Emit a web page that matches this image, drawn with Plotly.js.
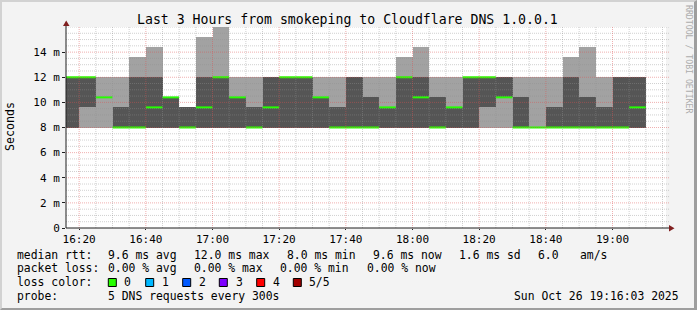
<!DOCTYPE html>
<html><head><meta charset="utf-8">
<script src="https://cdn.plot.ly/plotly-3.0.1.min.js"></script>
<style>
html,body{margin:0;padding:0;background:#f3f3f3;}
#wrap{position:relative;width:697px;height:310px;overflow:hidden;}
#chart{width:697px;height:310px;}
#frame{position:absolute;left:0;top:0;width:697px;height:310px;box-sizing:border-box;
 border-top:2px solid #d2d2d2;border-left:2px solid #d2d2d2;border-right:3px solid #9e9e9e;border-bottom:2px solid #9e9e9e;pointer-events:none;}
</style></head>
<body><div id="wrap"><div id="chart"></div><div id="frame"></div></div>
<script>
// ---- data (milliseconds) ----
const day = '2025-10-26';
const slotTimes = ['16:15','16:20','16:25','16:30','16:35','16:40','16:45','16:50','16:55',
  '17:00','17:05','17:10','17:15','17:20','17:25','17:30','17:35','17:40','17:45','17:50','17:55',
  '18:00','18:05','18:10','18:15','18:20','18:25','18:30','18:35','18:40','18:45','18:50','18:55',
  '19:00','19:05'];
const pingMin    = [8,8,8,8,8,8,8,8,8, 8,8,8,8,8,8,8,8,8,8,8,8, 8,8,8,8,8,8,8,8,8,8,8,8, 8,8];
const pingLow    = [8,9.6,10.4,8,8,8,8,8,8, 8,8,8,8,8,8,8,8,8,8,8,8, 8,8,8,8,9.6,10.4,8,8,8,8,8,8, 8,8];
const pingMedian = [12,12,10.4,8,8,9.6,10.4,8,9.6, 12,10.4,8,9.6,12,12,10.4,8,8,8,9.6,12,
  10.4,8,9.6,12,12,10.4,8,8,8,8,8,8, 8,9.6];
const pingHigh   = [12,12,10.4,9.6,12,12,10.4,9.6,12, 12,10.4,9.6,12,12,12,10.4,9.6,12,10.4,9.6,12,
  12,10.4,9.6,12,12,12,10.4,8,9.6,12,10.4,9.6, 12,12];
const pingMax    = [12,12,12,12,13.6,14.4,10.4,9.6,15.2, 16,12,12,12,12,12,12,12,12,12,12,13.6,
  14.4,12,12,12,12,12,12,12,12,13.6,14.4,12, 12,12];
const yTickVals = [0,2,4,6,8,10,12,14];
const yTickText = ['0','2 m','4 m','6 m','8 m','10 m','12 m','14 m'];
const xTickText = ['16:20','16:40','17:00','17:20','17:40','18:00','18:20','18:40','19:00'];
const lossLabels = ['0','1','2','3','4','5/5'];
const lossColors = ['#26ff00','#00b8ff','#0059ff','#7e00ff','#ff0000','#a10000'];

// ---- helpers ----
const L = 66, W = 600, T = 27, H = 201;
const px = v => (v - L) / W;
const py = v => (T + H - v) / H;
function addMin(hhmm, m){ const [h,mm] = hhmm.split(':').map(Number); const t = h*60+mm+m;
  return String(Math.floor(t/60)).padStart(2,'0')+':'+String(t%60).padStart(2,'0'); }
const dt = t => day + ' ' + t + ':00';

const xs = slotTimes.map(dt);
const light = '#a2a2a2', dark = '#555555';
const barBase = {type:'bar', x: xs, width: 300000, offset: 0, hoverinfo:'skip', showlegend:false};
const traces = [
  Object.assign({}, barBase, {base: pingMin, y: pingLow.map((v,i)=>v-pingMin[i]), marker:{color:light,line:{width:0}}}),
  Object.assign({}, barBase, {base: pingLow, y: pingHigh.map((v,i)=>v-pingLow[i]), marker:{color:dark,line:{width:0}}}),
  Object.assign({}, barBase, {base: pingHigh, y: pingMax.map((v,i)=>v-pingHigh[i]), marker:{color:light,line:{width:0}}}),
];
const mx = [], my = [];
slotTimes.forEach((t,i)=>{ mx.push(dt(t), dt(addMin(t,5)), null); my.push(pingMedian[i], pingMedian[i], null); });
traces.push({type:'scatter', mode:'lines', x: mx, y: my, line:{color:'#26ff00', width:2}, hoverinfo:'skip', showlegend:false});

// ---- grid (drawn over the smoke, as rrdtool does) ----
const shapes = [];
const gridC = 'rgba(143,143,143,0.42)', mgridC = 'rgba(222,79,79,0.45)';
for (let k = 1; k <= 32; k++) {
  const v = k * 0.5; const major = (k % 4 === 0) && v < 16;
  shapes.push({type:'line', layer:'above', xref:'paper', yref:'y', x0:0, x1:1.005, y0:v, y1:v,
    line:{color: major ? mgridC : gridC, width:1, dash:'1px,1px'}});
}
for (let m = 0; m <= 35; m++) {
  const t = addMin('16:20', m*5); const major = m % 4 === 0;
  shapes.push({type:'line', layer:'above', xref:'x', yref:'paper', x0:dt(t), x1:dt(t), y0:0, y1:1,
    line:{color: major ? mgridC : gridC, width:1, dash:'1px,1px'}});
}
// axes with arrows
shapes.push({type:'line', layer:'above', xref:'paper', yref:'paper', x0:0, x1:0, y0:0, y1:1.012, line:{color:'#1f1f1f', width:1}});
shapes.push({type:'line', layer:'above', xref:'paper', yref:'paper', x0:0, x1:px(670), y0:0, y1:0, line:{color:'#1f1f1f', width:1}});
shapes.push({type:'path', layer:'above', xref:'paper', yref:'paper',
  path:`M ${px(63)} ${py(26)} L ${px(69.5)} ${py(26)} L ${px(66.2)} ${py(20.5)} Z`, fillcolor:'#801f1f', line:{width:0}});
shapes.push({type:'path', layer:'above', xref:'paper', yref:'paper',
  path:`M ${px(669)} ${py(225)} L ${px(669)} ${py(231.5)} L ${px(674.5)} ${py(228.2)} Z`, fillcolor:'#801f1f', line:{width:0}});
// loss color boxes
const boxX = [108.3,145.7,182.7,219.3,256.7,293.3];
lossColors.forEach((c,i)=>{
  shapes.push({type:'rect', layer:'above', xref:'paper', yref:'paper', x0:px(boxX[i]), x1:px(boxX[i]+8), y0:py(286.5), y1:py(278.5),
    fillcolor:c, line:{color:'#000', width:1}});
});

// ---- text ----
const F = 'DejaVu Sans Mono';
const ann = [];
function txt(s, x, y, opt){ ann.push(Object.assign({text:s, xref:'paper', yref:'paper', x:px(x), y:py(y), xanchor:'left', yanchor:'middle',
  showarrow:false, borderpad:0, font:{family:F, size:11.4, color:'#000'}}, opt||{})); }
txt('Last 3 Hours from smokeping to Cloudflare DNS 1.0.0.1', 347, 19.3, {xanchor:'center', font:{family:F, size:13.2, color:'#000'}});
txt('Seconds', 10, 127, {xanchor:'center', textangle:-90, font:{family:F, size:11.6, color:'#000'}});
txt('RRDTOOL / TOBI OETIKER', 689, 59, {xanchor:'center', textangle:90, font:{family:F, size:8.2, color:'#acacac'}});
const r1 = 254.5, r2 = 268.3, r3 = 282.3, r4 = 295.8;
txt('median rtt:', 16, r1); txt('9.6 ms avg', 107.3, r1); txt('12.0 ms max', 193.3, r1); txt('8.0 ms min', 286, r1);
txt('9.6 ms now', 372.3, r1); txt('1.6 ms sd', 458.3, r1); txt('6.0', 536.7, r1); txt('am/s', 579.3, r1);
txt('packet loss:', 16, r2); txt('0.00 % avg', 107.3, r2); txt('0.00 % max', 193.3, r2); txt('0.00 % min', 279.3, r2); txt('0.00 % now', 365.7, r2);
txt('loss color:', 16, r3);
const labX = [123.3,161,197.7,235,271.7,308.3];
lossLabels.forEach((s,i)=>txt(s, labX[i], r3));
txt('probe:', 16, r4); txt('5 DNS requests every 300s', 107.3, r4);
txt('Sun Oct 26 19:16:03 2025', 680, r4, {xanchor:'right'});

const layout = {
  width:697, height:310, margin:{l:L, r:697-L-W, t:T, b:310-T-H, pad:0},
  paper_bgcolor:'#f3f3f3', plot_bgcolor:'#ffffff', barmode:'overlay', bargap:0,
  font:{family:F, size:11, color:'#000'}, showlegend:false, hovermode:false,
  xaxis:{type:'date', range:[day+' 16:16:03', day+' 19:16:03'], showgrid:false, zeroline:false, showline:false,
    tickvals: xTickText.map(dt), ticktext: xTickText, ticks:'outside', ticklen:1, tickcolor:'#1f1f1f',
    tickfont:{family:F, size:11, color:'#000'}, fixedrange:true},
  yaxis:{range:[0,16], showgrid:false, zeroline:false, showline:false, tickvals:yTickVals, ticktext:yTickText,
    ticks:'outside', ticklen:3, tickcolor:'#1f1f1f', tickfont:{family:F, size:11, color:'#000'}, fixedrange:true},
  shapes: shapes, annotations: ann
};
Plotly.newPlot('chart', traces, layout, {staticPlot:true, displayModeBar:false});
</script></body></html>
